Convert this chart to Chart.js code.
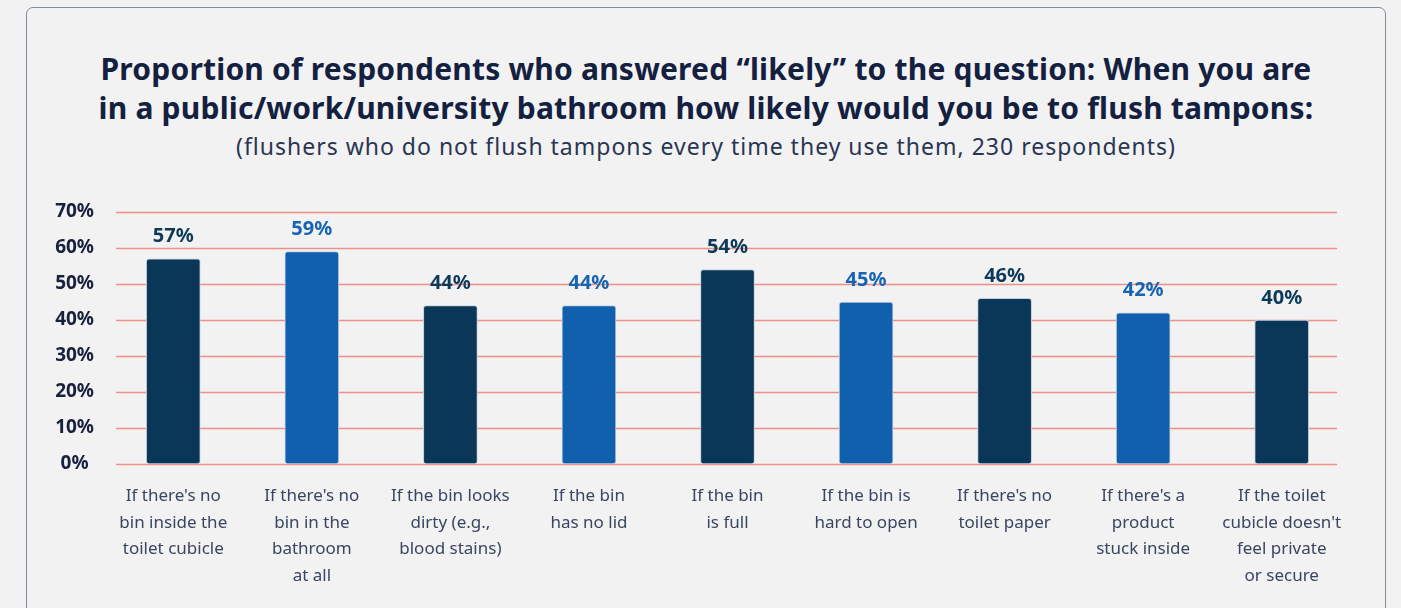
<!DOCTYPE html>
<html>
<head>
<meta charset="utf-8">
<script src="https://cdn.jsdelivr.net/npm/chart.js@4.4.1/dist/chart.umd.min.js"></script>
<style>
  html, body { margin: 0; padding: 0; background: #f2f2f2; }
  #wrap { position: relative; width: 1401px; height: 608px; overflow: hidden; }
  #card {
    position: absolute; left: 26px; top: 7px; width: 1358px; height: 640px;
    border: 1.5px solid #838b9f; border-radius: 7px; background: #f2f2f2;
  }
  .titulo {
    position: absolute; left: 26px; width: 1360px; text-align: center;
    font-family: "Noto Sans", sans-serif; color: #14203f; white-space: nowrap;
  }
  #t1 { top: 50px; font-size: 30px; font-weight: 700; line-height: 38.5px; letter-spacing: 0.2px; }
  #t2 { top: 131px; font-size: 23px; font-weight: 400; color: #2a3553; line-height: 30px; letter-spacing: 1px; }
  canvas { position: absolute; left: 0; top: 0; }
</style>
</head>
<body>
<div id="wrap">
  <div id="card"></div>
  <div class="titulo" id="t1">Proportion of respondents who answered “likely” to the question: When you are<br>in a public/work/university bathroom how likely would you be to flush tampons:</div>
  <div class="titulo" id="t2">(flushers who do not flush tampons every time they use them, 230 respondents)</div>
  <canvas id="chart-bars" width="1401" height="608"></canvas>
</div>
<script>
// Categorías (etiquetas multilínea del eje X)
const categorias = [
    ["If there's no", "bin inside the", "toilet cubicle"],
    ["If there's no", "bin in the", "bathroom", "at all"],
    ["If the bin looks", "dirty (e.g.,", "blood stains)"],
    ["If the bin", "has no lid"],
    ["If the bin", "is full"],
    ["If the bin is", "hard to open"],
    ["If there's no", "toilet paper"],
    ["If there's a", "product", "stuck inside"],
    ["If the toilet", "cubicle doesn't", "feel private", "or secure"]
];

// Porcentaje que respondió "likely"
const valores = [57, 59, 44, 44, 54, 45, 46, 42, 40];

// Marcas del eje Y
const ticksY = [0, 10, 20, 30, 40, 50, 60, 70];

const colorOscuro = '#0a3757';
const colorAzul = '#1160ae';
const coloresBarras = valores.map((v, i) => i % 2 === 0 ? colorOscuro : colorAzul);
const coloresEtiquetas = valores.map((v, i) => i % 2 === 0 ? '#0d3a5a' : '#1764b3');

// Líneas de la cuadrícula un poco más cortas que el área del gráfico
const gridPlugin = {
    id: 'gridCorta',
    beforeDatasetsDraw(chart) {
        const { ctx, chartArea, scales } = chart;
        ctx.save();
        ctx.strokeStyle = '#ef9088';
        ctx.lineWidth = 1.3;
        ticksY.forEach(v => {
            const y = Math.round(scales.y.getPixelForValue(v)) + 0.5;
            ctx.beginPath();
            ctx.moveTo(chartArea.left + 12, y);
            ctx.lineTo(chartArea.right - 14, y);
            ctx.stroke();
        });
        ctx.restore();
    }
};

// Valor encima de cada barra
const etiquetasPlugin = {
    id: 'etiquetasValor',
    afterDatasetsDraw(chart) {
        const { ctx } = chart;
        const meta = chart.getDatasetMeta(0);
        ctx.save();
        ctx.font = 'bold 20px "Noto Sans", sans-serif';
        ctx.textAlign = 'center';
        ctx.textBaseline = 'bottom';
        meta.data.forEach((bar, i) => {
            ctx.fillStyle = coloresEtiquetas[i];
            ctx.fillText(valores[i] + '%', bar.x, bar.y - 12);
        });
        ctx.restore();
    }
};

const ctx = document.getElementById('chart-bars').getContext('2d');
new Chart(ctx, {
    type: 'bar',
    data: {
        labels: categorias,
        datasets: [{
            label: 'Likely',
            data: valores,
            backgroundColor: coloresBarras,
            borderColor: '#c3cfdc',
            borderWidth: 1,
            borderRadius: 3,
            borderSkipped: false,
            barThickness: 54
        }]
    },
    options: {
        responsive: false,
        animation: false,
        layout: {
            padding: { top: 212, right: 50, bottom: 0, left: 0 }
        },
        plugins: {
            legend: { display: false },
            tooltip: { enabled: false }
        },
        scales: {
            y: {
                min: 0,
                max: 70,
                afterFit(scale) { scale.width = 104; },
                afterBuildTicks(scale) { scale.ticks = ticksY.map(v => ({ value: v })); },
                border: { display: false },
                grid: { display: false, drawTicks: false },
                ticks: {
                    crossAlign: 'center',
                    padding: 10,
                    color: '#17203c',
                    font: { size: 19, weight: 'bold', family: '"Noto Sans", sans-serif' },
                    callback: v => v + '%'
                }
            },
            x: {
                border: { display: false },
                grid: { display: false, drawTicks: false },
                ticks: {
                    maxRotation: 0,
                    autoSkip: false,
                    padding: 19,
                    color: '#3a4560',
                    font: { size: 17, family: '"Noto Sans", sans-serif', lineHeight: 1.56 }
                }
            }
        }
    },
    plugins: [gridPlugin, etiquetasPlugin]
});
</script>
</body>
</html>
